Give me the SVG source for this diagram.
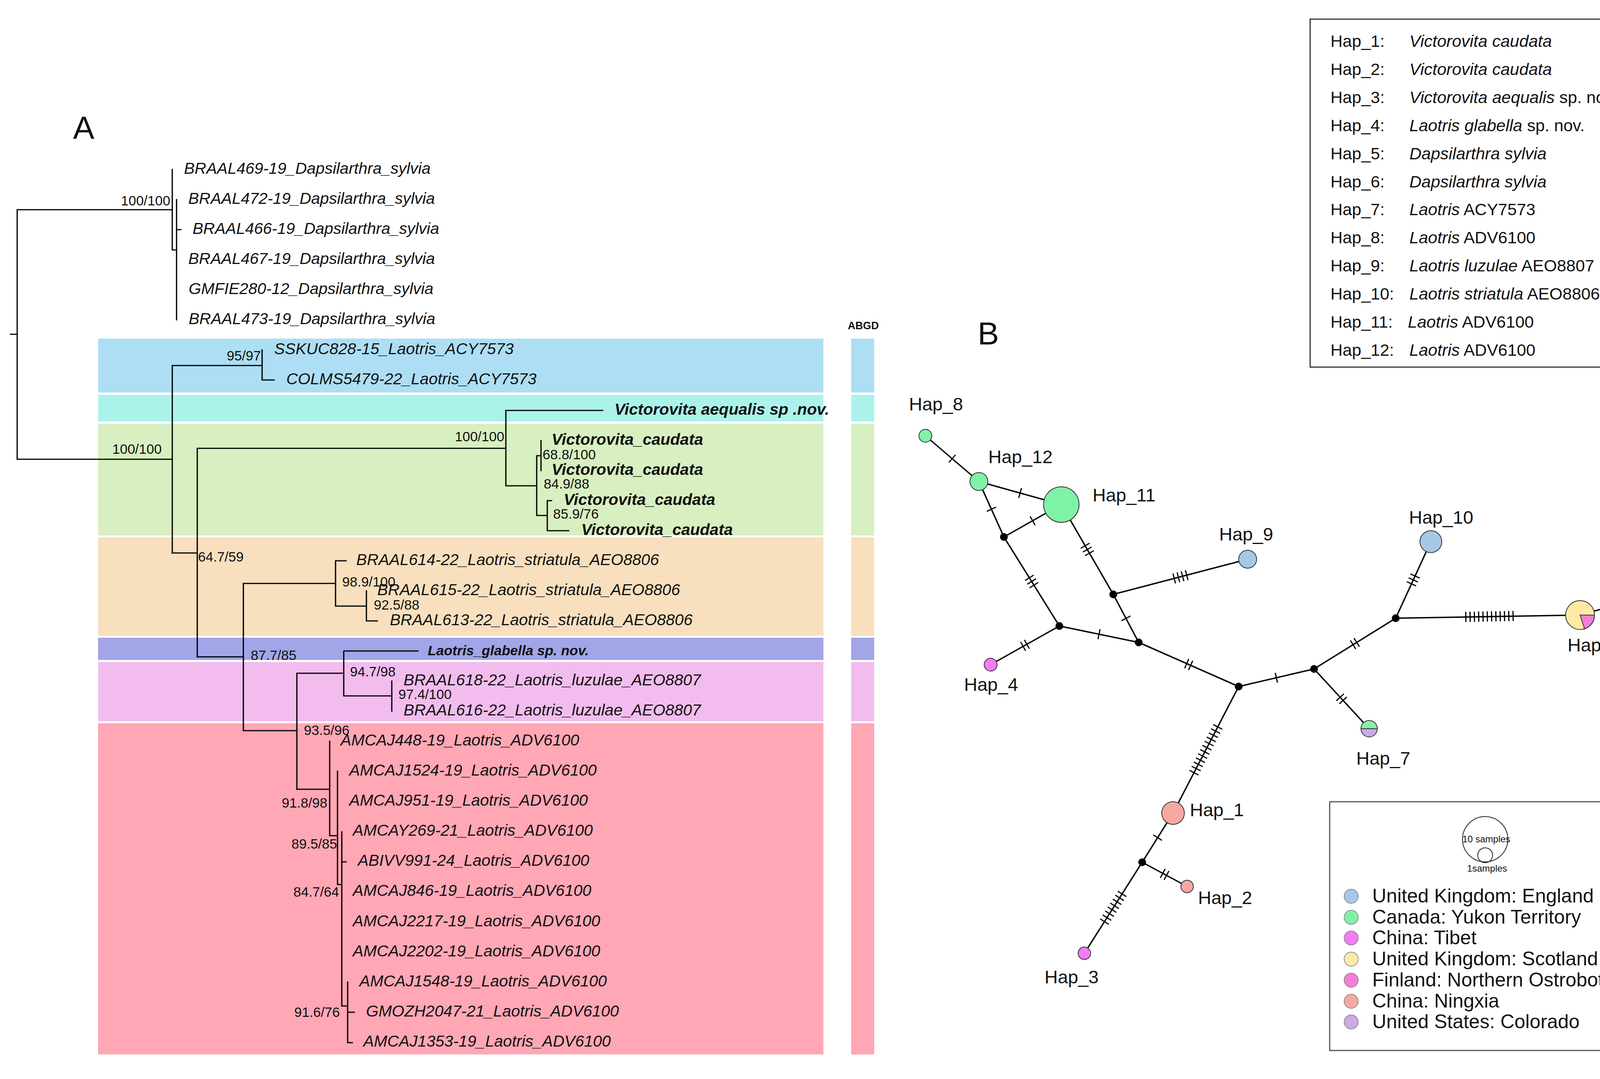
<svg xmlns="http://www.w3.org/2000/svg" width="4294" height="2763" viewBox="0 0 4294 2763">
<style>
text{font-family:"Liberation Sans",Arial,sans-serif;fill:#111}
.leaf{font-size:41px;font-style:italic}
.bleaf{font-size:41px;font-style:italic;font-weight:bold}
.sup{font-size:35px}
.tree{fill:none;stroke:#000;stroke-width:3.2;stroke-linecap:square}
.edge{fill:none;stroke:#000;stroke-width:3.6}
.tick{fill:none;stroke:#000;stroke-width:3}
.hap{stroke:#333;stroke-width:2}
.med{fill:#000}
.hl{font-size:47px}
.lg{font-size:43px}
.lgi{font-style:italic}
.geo{font-size:50px}
.gc{stroke:#777;stroke-width:1.5}
</style>
<rect width="4294" height="2763" fill="#fff"/>

<g id="panel-labels">
<text x="187" y="355" style="font-size:82px">A</text>
<text x="2530" y="882" text-anchor="middle" style="font-size:82px">B</text>
<text x="2210" y="843" text-anchor="middle" style="font-size:27px;font-weight:bold">ABGD</text>
</g>

<g id="bands">
<rect x="251" y="867" width="1857" height="138" fill="#ADDEF4"/>
<rect x="251" y="1011" width="1857" height="68" fill="#ABF3EA"/>
<rect x="251" y="1085" width="1857" height="286" fill="#D8EFC1"/>
<rect x="251" y="1376" width="1857" height="252" fill="#F8DFBE"/>
<rect x="251" y="1633" width="1857" height="57" fill="#A2A5E8"/>
<rect x="251" y="1695" width="1857" height="152" fill="#F2BDEE"/>
<rect x="251" y="1852" width="1857" height="848" fill="#FFA7B5"/>
<rect x="2179" y="867" width="59" height="138" fill="#ADDEF4"/>
<rect x="2179" y="1011" width="59" height="68" fill="#ABF3EA"/>
<rect x="2179" y="1085" width="59" height="286" fill="#D8EFC1"/>
<rect x="2179" y="1376" width="59" height="252" fill="#F8DFBE"/>
<rect x="2179" y="1633" width="59" height="57" fill="#A2A5E8"/>
<rect x="2179" y="1695" width="59" height="152" fill="#F2BDEE"/>
<rect x="2179" y="1852" width="59" height="848" fill="#FFA7B5"/>
</g>

<g id="tree-branches" class="tree">
<path d="M27,856H44M44,537V1176M44,537H441M44,1176H441"/>
<path d="M441,434V640M441,640H452M452,511V819M452,588H463"/>
<path d="M441,936V1416M441,936H671M671,896V973M671,973H702"/>
<path d="M441,1416H505M505,1148V1682M505,1148H1295M1295,1051V1244M1295,1051H1543M1295,1244H1374M1374,1167V1320M1374,1167H1385M1385,1128V1205M1374,1320H1401M1401,1282V1359M1401,1282H1412M1401,1359H1456"/>
<path d="M505,1682H623M623,1494V1871M623,1494H859M859,1436V1552M859,1436H886M859,1552H938M938,1513V1590M938,1590H966"/>
<path d="M623,1871H760M760,1724V2021M760,1724H880M880,1667V1782M880,1667H1070M880,1782H1003M1003,1744V1821"/>
<path d="M760,2021H844M844,1898V2140M844,2140H864M864,1975V2265M864,2265H875M875,2130V2576M875,2207H886M875,2576H890M890,2515V2670M890,2592H907M890,2670H902"/>
</g>

<g id="tree-leaves">
<text class="leaf" x="471" y="445">BRAAL469-19_Dapsilarthra_sylvia</text>
<text class="leaf" x="482" y="522">BRAAL472-19_Dapsilarthra_sylvia</text>
<text class="leaf" x="493" y="599">BRAAL466-19_Dapsilarthra_sylvia</text>
<text class="leaf" x="482" y="676">BRAAL467-19_Dapsilarthra_sylvia</text>
<text class="leaf" x="483" y="753">GMFIE280-12_Dapsilarthra_sylvia</text>
<text class="leaf" x="483" y="830">BRAAL473-19_Dapsilarthra_sylvia</text>
<text class="leaf" x="702" y="907">SSKUC828-15_Laotris_ACY7573</text>
<text class="leaf" x="733" y="984">COLMS5479-22_Laotris_ACY7573</text>
<text class="bleaf" x="1573" y="1062">Victorovita aequalis sp .nov.</text>
<text class="bleaf" x="1412" y="1139">Victorovita_caudata</text>
<text class="bleaf" x="1412" y="1216">Victorovita_caudata</text>
<text class="bleaf" x="1443" y="1293">Victorovita_caudata</text>
<text class="bleaf" x="1488" y="1370">Victorovita_caudata</text>
<text class="leaf" x="912" y="1447">BRAAL614-22_Laotris_striatula_AEO8806</text>
<text class="leaf" x="966" y="1524">BRAAL615-22_Laotris_striatula_AEO8806</text>
<text class="leaf" x="998" y="1601">BRAAL613-22_Laotris_striatula_AEO8806</text>
<text class="bleaf" x="1095" y="1678" style="font-size:35.5px">Laotris_glabella sp. nov.</text>
<text class="leaf" x="1033" y="1755">BRAAL618-22_Laotris_luzulae_AEO8807</text>
<text class="leaf" x="1033" y="1832">BRAAL616-22_Laotris_luzulae_AEO8807</text>
<text class="leaf" x="872" y="1909">AMCAJ448-19_Laotris_ADV6100</text>
<text class="leaf" x="894" y="1986">AMCAJ1524-19_Laotris_ADV6100</text>
<text class="leaf" x="894" y="2063">AMCAJ951-19_Laotris_ADV6100</text>
<text class="leaf" x="903" y="2140">AMCAY269-21_Laotris_ADV6100</text>
<text class="leaf" x="916" y="2217">ABIVV991-24_Laotris_ADV6100</text>
<text class="leaf" x="903" y="2294">AMCAJ846-19_Laotris_ADV6100</text>
<text class="leaf" x="903" y="2372">AMCAJ2217-19_Laotris_ADV6100</text>
<text class="leaf" x="903" y="2449">AMCAJ2202-19_Laotris_ADV6100</text>
<text class="leaf" x="920" y="2526">AMCAJ1548-19_Laotris_ADV6100</text>
<text class="leaf" x="937" y="2603">GMOZH2047-21_Laotris_ADV6100</text>
<text class="leaf" x="930" y="2680">AMCAJ1353-19_Laotris_ADV6100</text>
</g>

<g id="tree-support" class="sup">
<text class="sup" x="436" y="526" text-anchor="end">100/100</text>
<text class="sup" x="414" y="1162" text-anchor="end">100/100</text>
<text class="sup" x="668" y="923" text-anchor="end">95/97</text>
<text class="sup" x="1291" y="1130" text-anchor="end">100/100</text>
<text class="sup" x="1389" y="1176">68.8/100</text>
<text class="sup" x="1392" y="1251">84.9/88</text>
<text class="sup" x="1416" y="1328">85.9/76</text>
<text class="sup" x="507" y="1438">64.7/59</text>
<text class="sup" x="876" y="1502">98.9/100</text>
<text class="sup" x="957" y="1561">92.5/88</text>
<text class="sup" x="642" y="1690">87.7/85</text>
<text class="sup" x="896" y="1732">94.7/98</text>
<text class="sup" x="1020" y="1790">97.4/100</text>
<text class="sup" x="778" y="1882">93.5/96</text>
<text class="sup" x="838" y="2068" text-anchor="end">91.8/98</text>
<text class="sup" x="863" y="2173" text-anchor="end">89.5/85</text>
<text class="sup" x="868" y="2296" text-anchor="end">84.7/64</text>
<text class="sup" x="870" y="2604" text-anchor="end">91.6/76</text>
</g>

<g id="network-edges">
<path class="edge" d="M2369,1116L2506,1233M2506,1233L2717,1292M2506,1233L2570,1375M2570,1375L2717,1292M2570,1375L2712,1603M2717,1292L2850,1522M2850,1522L3194,1432M2850,1522L2915,1645M2712,1603L2915,1645M2712,1603L2536,1702M2915,1645L3171,1758M3171,1758L3364,1713M3364,1713L3573,1583M3364,1713L3505,1866M3573,1583L3663,1387M3573,1583L4045,1575M4045,1575L4194,1533M3171,1758L3003,2082M3003,2082L2924,2208M2924,2208L3039,2270M2924,2208L2776,2441"/>
<g class="tick">
<path transform="translate(2437.5,1174.5) rotate(40.5)" d="M0,-13V13"/>
<path transform="translate(2611.5,1262.5) rotate(15.6)" d="M0,-13V13"/>
<path transform="translate(2538,1304) rotate(65.7)" d="M0,-13V13"/>
<path transform="translate(2643.5,1333.5) rotate(-29.4)" d="M0,-13V13"/>
<path transform="translate(2641,1489) rotate(58.1)" d="M-11,-13V13M0,-13V13M11,-13V13"/>
<path transform="translate(2783.5,1407) rotate(60)" d="M-11,-13V13M0,-13V13M11,-13V13"/>
<path transform="translate(3022,1477) rotate(-14.7)" d="M-16.5,-13V13M-5.5,-13V13M5.5,-13V13M16.5,-13V13"/>
<path transform="translate(2882.5,1583.5) rotate(62.1)" d="M0,-13V13"/>
<path transform="translate(2813.5,1624) rotate(11.7)" d="M0,-13V13"/>
<path transform="translate(2624,1652.5) rotate(150.6)" d="M-5.5,-13V13M5.5,-13V13"/>
<path transform="translate(3043,1701.5) rotate(23.8)" d="M-5.5,-13V13M5.5,-13V13"/>
<path transform="translate(3267.5,1735.5) rotate(-13.1)" d="M0,-13V13"/>
<path transform="translate(3468.5,1648) rotate(-31.9)" d="M-5.5,-13V13M5.5,-13V13"/>
<path transform="translate(3434.5,1789.5) rotate(47.3)" d="M-5.5,-13V13M5.5,-13V13"/>
<path transform="translate(3618,1485) rotate(-65.3)" d="M-11,-13V13M0,-13V13M11,-13V13"/>
<path transform="translate(3813,1578.5) rotate(-1.2)" d="M-60.5,-13V13M-49.5,-13V13M-38.5,-13V13M-27.5,-13V13M-16.5,-13V13M-5.5,-13V13M5.5,-13V13M16.5,-13V13M27.5,-13V13M38.5,-13V13M49.5,-13V13M60.5,-13V13"/>
<path transform="translate(4119.5,1553) rotate(-15)" d="M0,-13V13"/>
<path transform="translate(3087,1920) rotate(117.4)" d="M-66,-13V13M-54,-13V13M-42,-13V13M-30,-13V13M-18,-13V13M-6,-13V13M6,-13V13M18,-13V13M30,-13V13M42,-13V13M54,-13V13M66,-13V13"/>
<path transform="translate(2963.5,2145) rotate(122.1)" d="M0,-13V13"/>
<path transform="translate(2981.5,2239) rotate(28.3)" d="M-5.5,-13V13M5.5,-13V13"/>
<path transform="translate(2850,2324.5) rotate(122.4)" d="M-42,-13V13M-30,-13V13M-18,-13V13M-6,-13V13M6,-13V13M18,-13V13M30,-13V13M42,-13V13"/>
</g>
</g>

<g id="median-vectors" class="med">
<circle cx="2570" cy="1375" r="10"/>
<circle cx="2850" cy="1522" r="10"/>
<circle cx="2712" cy="1603" r="10"/>
<circle cx="2915" cy="1645" r="10"/>
<circle cx="3171" cy="1758" r="10"/>
<circle cx="3364" cy="1713" r="10"/>
<circle cx="3573" cy="1583" r="10"/>
<circle cx="2924" cy="2208" r="10"/>
</g>

<g id="hap-1"><circle class="hap" cx="3003" cy="2082" r="29" fill="#F8A8A2"/><text class="hl" x="3046" y="2090">Hap_1</text></g>
<g id="hap-2"><circle class="hap" cx="3039" cy="2270" r="16" fill="#F8A8A2"/><text class="hl" x="3067" y="2315">Hap_2</text></g>
<g id="hap-3"><circle class="hap" cx="2776" cy="2441" r="16" fill="#F47CF4"/><text class="hl" x="2674" y="2518">Hap_3</text></g>
<g id="hap-4"><circle class="hap" cx="2536" cy="1702" r="16.5" fill="#F47CF4"/><text class="hl" x="2468" y="1769">Hap_4</text></g>
<g id="hap-5">
<circle cx="4045" cy="1575" r="37" fill="#FDEBA5"/>
<path d="M4045,1575L4082,1575A37,37 0 0,1 4056.4,1610.2Z" fill="#F87CD9" stroke="#333" stroke-width="2"/>
<circle class="hap" cx="4045" cy="1575" r="37" fill="none"/>
<text class="hl" x="4013" y="1668">Hap_5</text></g>
<g id="hap-6"><circle class="hap" cx="4194" cy="1533" r="16.5" fill="#FDEBA5"/><text class="hl" x="4127" y="1481">Hap_6</text></g>
<g id="hap-7">
<path d="M3484,1866A21,21 0 0,1 3526,1866Z" fill="#80F2A6"/>
<path d="M3484,1866A21,21 0 0,0 3526,1866Z" fill="#CBAAE6"/>
<path d="M3484,1866H3526" stroke="#333" stroke-width="2"/>
<circle class="hap" cx="3505" cy="1866" r="21" fill="none"/>
<text class="hl" x="3472" y="1958">Hap_7</text></g>
<g id="hap-8"><circle class="hap" cx="2369" cy="1116" r="16.5" fill="#80F2A6"/><text class="hl" x="2327" y="1051">Hap_8</text></g>
<g id="hap-9"><circle class="hap" cx="3194" cy="1432" r="23" fill="#A6C8E8"/><text class="hl" x="3121" y="1384">Hap_9</text></g>
<g id="hap-10"><circle class="hap" cx="3663" cy="1387" r="28" fill="#A6C8E8"/><text class="hl" x="3607" y="1341">Hap_10</text></g>
<g id="hap-11"><circle class="hap" cx="2717" cy="1292" r="45.5" fill="#80F2A6"/><text class="hl" x="2797" y="1284">Hap_11</text></g>
<g id="hap-12"><circle class="hap" cx="2506" cy="1233" r="23" fill="#80F2A6"/><text class="hl" x="2530" y="1186">Hap_12</text></g>

<g id="legend-haplotypes">
<rect x="3354" y="49" width="857" height="891" fill="#fff" stroke="#333" stroke-width="3"/>
<text class="lg" x="3406" y="120">Hap_1:</text><text class="lg lgi" x="3608" y="120">Victorovita caudata</text>
<text class="lg" x="3406" y="192">Hap_2:</text><text class="lg lgi" x="3608" y="192">Victorovita caudata</text>
<text class="lg" x="3406" y="264">Hap_3:</text><text class="lg" x="3608" y="264"><tspan class="lgi">Victorovita aequalis</tspan> sp. nov.</text>
<text class="lg" x="3406" y="336">Hap_4:</text><text class="lg" x="3608" y="336"><tspan class="lgi">Laotris glabella</tspan> sp. nov.</text>
<text class="lg" x="3406" y="408">Hap_5:</text><text class="lg lgi" x="3608" y="408">Dapsilarthra sylvia</text>
<text class="lg" x="3406" y="480">Hap_6:</text><text class="lg lgi" x="3608" y="480">Dapsilarthra sylvia</text>
<text class="lg" x="3406" y="551">Hap_7:</text><text class="lg" x="3608" y="551"><tspan class="lgi">Laotris</tspan> ACY7573</text>
<text class="lg" x="3406" y="623">Hap_8:</text><text class="lg" x="3608" y="623"><tspan class="lgi">Laotris</tspan> ADV6100</text>
<text class="lg" x="3406" y="695">Hap_9:</text><text class="lg" x="3608" y="695"><tspan class="lgi">Laotris luzulae</tspan> AEO8807</text>
<text class="lg" x="3406" y="767">Hap_10:</text><text class="lg" x="3608" y="767"><tspan class="lgi">Laotris striatula</tspan> AEO8806</text>
<text class="lg" x="3406" y="839">Hap_11:</text><text class="lg" x="3604" y="839"><tspan class="lgi">Laotris</tspan> ADV6100</text>
<text class="lg" x="3406" y="911">Hap_12:</text><text class="lg" x="3608" y="911"><tspan class="lgi">Laotris</tspan> ADV6100</text>
</g>

<g id="legend-locations">
<rect x="3404" y="2053" width="838" height="637" fill="#fff" stroke="#555" stroke-width="3"/>
<circle cx="3802" cy="2149" r="58" fill="none" stroke="#222" stroke-width="2"/>
<circle cx="3802" cy="2190" r="19" fill="none" stroke="#222" stroke-width="2"/>
<text x="3805" y="2157" text-anchor="middle" style="font-size:24px">10 samples</text>
<text x="3807" y="2232" text-anchor="middle" style="font-size:24px">1samples</text>
<circle class="gc" cx="3459" cy="2295" r="18" fill="#A6C8E8"/><text class="geo" x="3513" y="2311">United Kingdom: England</text>
<circle class="gc" cx="3459" cy="2349" r="18" fill="#80F2A6"/><text class="geo" x="3513" y="2365">Canada: Yukon Territory</text>
<circle class="gc" cx="3459" cy="2402" r="18" fill="#F47CF4"/><text class="geo" x="3513" y="2418">China: Tibet</text>
<circle class="gc" cx="3459" cy="2456" r="18" fill="#FDEBA5"/><text class="geo" x="3513" y="2472">United Kingdom: Scotland</text>
<circle class="gc" cx="3459" cy="2510" r="18" fill="#F87CD9"/><text class="geo" x="3513" y="2526">Finland: Northern Ostrobothnia</text>
<circle class="gc" cx="3459" cy="2564" r="18" fill="#F8A8A2"/><text class="geo" x="3513" y="2580">China: Ningxia</text>
<circle class="gc" cx="3459" cy="2617" r="18" fill="#CBAAE6"/><text class="geo" x="3513" y="2633">United States: Colorado</text>
</g>
</svg>
